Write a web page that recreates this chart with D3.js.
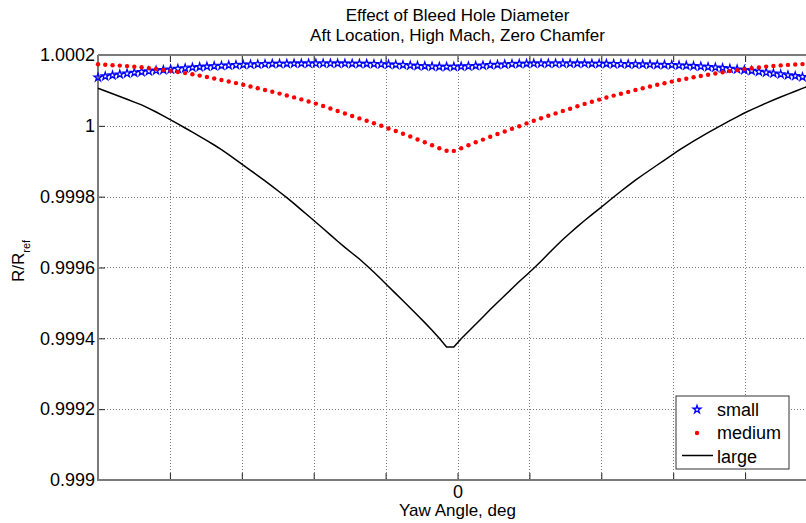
<!DOCTYPE html>
<html><head><meta charset="utf-8">
<script src="https://cdn.jsdelivr.net/npm/d3@7"></script>
<style>
body{margin:0;background:#fff}
text{font-family:"Liberation Sans",Arial,Helvetica,sans-serif;fill:#000}
</style>
</head><body><svg id="c" width="806" height="523"></svg>
<script>
const yaw=[-50,-48.99,-47.98,-46.97,-45.96,-44.95,-43.94,-42.93,-41.92,-40.91,
-39.9,-38.89,-37.88,-36.87,-35.86,-34.85,-33.84,-32.83,-31.82,-30.81,
-29.8,-28.79,-27.78,-26.77,-25.76,-24.75,-23.74,-22.73,-21.72,-20.71,
-19.7,-18.69,-17.68,-16.67,-15.66,-14.65,-13.64,-12.63,-11.62,-10.61,
-9.6,-8.59,-7.58,-6.57,-5.56,-4.55,-3.54,-2.53,-1.52,-0.51,
0.51,1.52,2.53,3.54,4.55,5.56,6.57,7.58,8.59,9.6,
10.61,11.62,12.63,13.64,14.65,15.66,16.67,17.68,18.69,19.7,
20.71,21.72,22.73,23.74,24.75,25.76,26.77,27.78,28.79,29.8,
30.81,31.82,32.83,33.84,34.85,35.86,36.87,37.88,38.89,39.9,
40.91,41.92,42.93,43.94,44.95,45.96,46.97,47.98,48.99,50];

const small=[1.0001365,1.0001399,1.0001427,1.0001455,1.000148,1.0001503,1.0001523,1.0001543,1.0001562,1.0001579,
1.0001596,1.0001613,1.000163,1.0001647,1.0001661,1.0001675,1.0001687,1.0001698,1.0001709,1.0001718,
1.0001726,1.0001735,1.000174,1.0001746,1.0001752,1.0001754,1.0001757,1.000176,1.000176,1.0001763,
1.0001763,1.0001763,1.0001763,1.000176,1.000176,1.0001757,1.0001754,1.0001752,1.0001746,1.000174,
1.0001735,1.0001726,1.0001718,1.0001706,1.0001695,1.0001687,1.0001678,1.0001672,1.000167,1.000167,
1.0001675,1.0001684,1.0001695,1.0001706,1.0001718,1.0001729,1.0001737,1.0001746,1.0001752,1.0001757,
1.000176,1.0001763,1.0001763,1.0001763,1.0001763,1.0001763,1.000176,1.000176,1.0001757,1.0001754,
1.0001752,1.0001749,1.0001746,1.0001743,1.000174,1.0001737,1.0001735,1.0001729,1.0001723,1.0001718,
1.0001709,1.0001701,1.0001689,1.0001678,1.0001664,1.000165,1.0001633,1.0001616,1.0001596,1.0001576,
1.0001554,1.0001531,1.0001509,1.0001483,1.0001458,1.0001432,1.0001407,1.0001379,1.0001351,1.0001322];

const medium=[1.0001737,1.0001723,1.0001712,1.0001701,1.0001687,1.000167,1.0001653,1.000163,1.0001608,1.0001579,
1.0001551,1.000152,1.0001489,1.0001455,1.0001418,1.0001379,1.0001336,1.0001294,1.0001252,1.0001207,
1.0001159,1.0001111,1.000106,1.0001012,1.0000961,1.000091,1.0000856,1.0000803,1.0000746,1.0000687,
1.0000628,1.000056,1.0000489,1.0000419,1.0000348,1.0000278,1.000021,1.0000142,1.0000074,1.0000001,
0.9999925,0.9999854,0.9999778,0.9999699,0.9999614,0.9999535,0.999945,0.9999365,0.9999298,0.9999292,
0.9999365,0.999945,0.9999535,0.9999611,0.999969,0.9999769,0.999984,0.9999919,0.999999,1.0000069,
1.0000142,1.0000215,1.0000283,1.0000351,1.0000419,1.0000484,1.0000554,1.0000619,1.0000681,1.0000741,
1.00008,1.0000854,1.0000907,1.0000958,1.0001012,1.000106,1.0001111,1.0001159,1.0001204,1.0001249,
1.0001294,1.0001331,1.000137,1.0001407,1.0001441,1.0001478,1.0001511,1.0001545,1.0001574,1.0001602,
1.0001627,1.000165,1.0001672,1.0001689,1.0001706,1.000172,1.0001732,1.0001743,1.0001752,1.0001757];

const large=[1.000106,1.0000983,1.0000907,1.0000828,1.0000749,1.000067,1.0000591,1.0000495,1.0000391,1.0000283,
1.000017,1.0000054,0.9999939,0.999982,0.9999702,0.9999583,0.9999459,0.9999329,0.9999188,0.9999041,
0.9998888,0.9998744,0.9998597,0.9998448,0.9998292,0.9998132,0.9997971,0.9997804,0.9997629,0.9997454,
0.9997279,0.9997101,0.9996923,0.9996742,0.999657,0.9996403,0.999624,0.9996056,0.9995867,0.9995669,
0.9995466,0.9995263,0.9995062,0.9994856,0.999465,0.9994444,0.9994229,0.9994,0.9993755,0.9993755,
0.9993986,0.9994193,0.9994399,0.9994602,0.9994814,0.9995011,0.9995209,0.9995407,0.9995604,0.9995788,
0.9995977,0.9996178,0.9996386,0.9996595,0.999679,0.9996974,0.9997155,0.9997327,0.9997493,0.9997654,
0.9997821,0.999799,0.9998154,0.9998312,0.9998465,0.9998612,0.9998753,0.9998894,0.9999035,0.9999176,
0.9999312,0.9999442,0.9999569,0.999969,0.9999806,0.9999922,1.0000035,1.0000145,1.0000255,1.0000362,
1.0000458,1.0000551,1.0000642,1.0000729,1.0000814,1.0000896,1.0000978,1.0001057,1.0001136,1.0001215];

const xTicks=[-50,-40,-30,-20,-10,0,10,20,30,40,50];
const xTickLabels=["","","","","","0","","","","",""];
const yTicks=[0.999,0.9992,0.9994,0.9996,0.9998,1,1.0002];
const yTickLabels=["0.999","0.9992","0.9994","0.9996","0.9998","1","1.0002"];
const seriesNames=["small","medium","large"];
const titleLines=["Effect of Bleed Hole Diameter","Aft Location, High Mach, Zero Chamfer"];
const xLabel="Yaw Angle, deg";

const svg=d3.select("#c");
const L=98,R=817,T=55,B=480;
const x=d3.scaleLinear().domain([-50,50]).range([L,R]);
const y=d3.scaleLinear().domain([0.999,1.0002]).range([B,T]);

svg.append("rect").attr("width",806).attr("height",523).attr("fill","#fff");

// grid
const grid=svg.append("g").attr("stroke","#7a7a7a").attr("stroke-width",1).attr("stroke-dasharray","1,2");
grid.selectAll("line.v").data(xTicks.slice(1,-1)).join("line")
  .attr("x1",d=>Math.round(x(d))+0.5).attr("x2",d=>Math.round(x(d))+0.5).attr("y1",T).attr("y2",B);
grid.selectAll("line.h").data(yTicks.slice(1,-1)).join("line").attr("class","h")
  .attr("x1",L).attr("x2",R).attr("y1",d=>Math.round(y(d))+0.5).attr("y2",d=>Math.round(y(d))+0.5);

// axes
function styleAxis(g){
  g.select(".domain").remove();
  g.selectAll(".tick line").attr("stroke","#222");
  g.selectAll(".tick text").attr("font-size",18).attr("font-family","'Liberation Sans',Arial,sans-serif").attr("fill","#000");
}
svg.append("g").attr("transform",`translate(0,${B})`)
  .call(d3.axisBottom(x).tickValues(xTicks).tickFormat((d,i)=>xTickLabels[i]).tickSizeInner(-7).tickSizeOuter(0).tickPadding(5))
  .call(styleAxis);
svg.append("g").attr("transform",`translate(0,${T})`)
  .call(d3.axisTop(x).tickValues(xTicks).tickFormat(()=>"").tickSizeInner(-7).tickSizeOuter(0))
  .call(styleAxis);
svg.append("g").attr("transform",`translate(${L},0)`)
  .call(d3.axisLeft(y).tickValues(yTicks).tickFormat((d,i)=>yTickLabels[i]).tickSizeInner(-7).tickSizeOuter(0).tickPadding(3))
  .call(styleAxis);

// axis lines
const ax=svg.append("g").attr("stroke","#7a7a7a").attr("stroke-width",2);
ax.append("line").attr("x1",L).attr("x2",L).attr("y1",T).attr("y2",B+1);
ax.append("line").attr("x1",L).attr("x2",R).attr("y1",B).attr("y2",B);
ax.append("line").attr("x1",L).attr("x2",R).attr("y1",T).attr("y2",T);

// series: small (blue pentagrams)
const star=d3.symbol(d3.symbolStar).size(19)();
svg.append("g").selectAll("path").data(small).join("path")
  .attr("d",star).attr("transform",(d,i)=>`translate(${x(yaw[i])},${y(d)})`)
  .attr("fill","none").attr("stroke","#0000ff").attr("stroke-width",1.3);

// medium (red dots)
svg.append("g").selectAll("circle").data(medium).join("circle")
  .attr("cx",(d,i)=>x(yaw[i])).attr("cy",d=>y(d)).attr("r",2.2).attr("fill","#ff0000");

// large (black line)
svg.append("path").datum(large)
  .attr("d",d3.line().x((d,i)=>x(yaw[i])).y(d=>y(d)))
  .attr("fill","none").attr("stroke","#000").attr("stroke-width",1.5);

// titles
svg.append("g").selectAll("text").data(titleLines).join("text")
  .attr("x",(L+R)/2).attr("y",(d,i)=>21+i*20).attr("text-anchor","middle").attr("font-size",17).text(d=>d);
svg.append("text").attr("x",(L+R)/2).attr("y",516).attr("text-anchor","middle").attr("font-size",17).text(xLabel);
const yl=svg.append("text").attr("transform","translate(24,261) rotate(-90)").attr("text-anchor","middle").attr("font-size",17);
yl.append("tspan").text("R/R");
yl.append("tspan").attr("baseline-shift","sub").attr("font-size",11).text("ref");

// legend
const lg=svg.append("g").attr("transform","translate(676,396)");
lg.append("rect").attr("width",113).attr("height",73).attr("fill","#fff").attr("stroke","#333").attr("stroke-width",1);
const rows=lg.selectAll("g").data(seriesNames).join("g").attr("transform",(d,i)=>`translate(0,${13.5+i*23.5})`);
rows.append("text").attr("x",41).attr("y",0).attr("dy","0.35em").attr("font-size",18).text(d=>d);
rows.filter((d,i)=>i===0).append("path").attr("d",star).attr("transform","translate(21,0)")
  .attr("fill","none").attr("stroke","#0000ff").attr("stroke-width",1.3);
rows.filter((d,i)=>i===1).append("circle").attr("cx",21).attr("cy",0).attr("r",2.2).attr("fill","#ff0000");
rows.filter((d,i)=>i===2).append("line").attr("x1",6).attr("x2",37).attr("y1",-1).attr("y2",-1).attr("stroke","#000").attr("stroke-width",1.5);
</script>
</body></html>
